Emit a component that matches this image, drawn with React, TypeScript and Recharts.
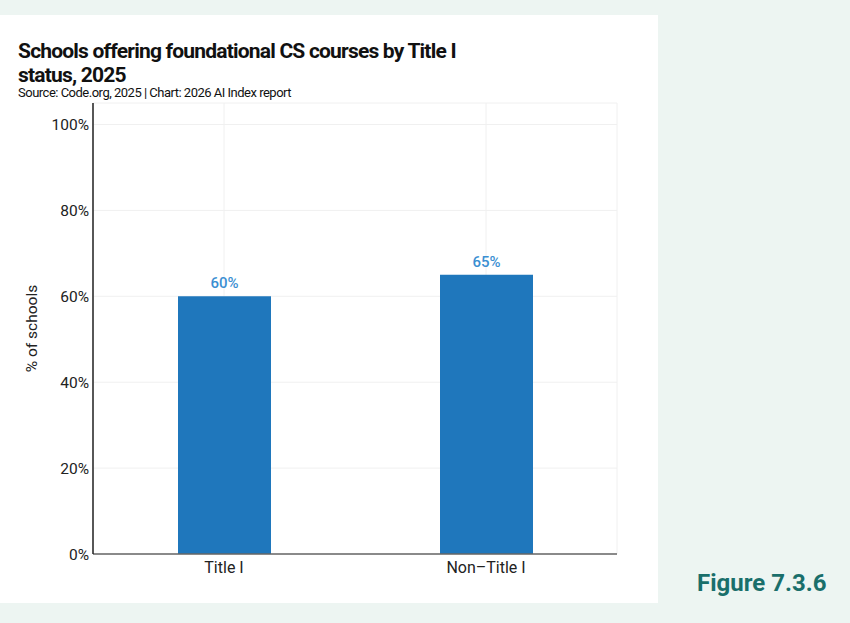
import { BarChart, Bar, XAxis, YAxis, CartesianGrid, LabelList } from 'recharts'

const categories = ['Title I', 'Non\u2013Title I']
const shares = [60, 65]
const yTicks = [0, 20, 40, 60, 80, 100]

const data = categories.map((name, i) => ({ name, value: shares[i] }))

const FONT = 'Roboto, "Noto Sans", sans-serif'

export default function App() {
  return (
    <div
      style={{
        position: 'absolute',
        left: 0,
        top: 0,
        width: 850,
        height: 623,
        background: '#edf5f2',
        fontFamily: FONT,
        overflow: 'hidden',
      }}
    >
      <div style={{ position: 'absolute', left: 0, top: 15, width: 658, height: 588, background: '#fff' }} />
      <div
        style={{
          position: 'absolute',
          left: 18,
          top: 39,
          width: 600,
          fontSize: 21,
          fontWeight: 700,
          lineHeight: '24px',
          color: '#111',
          letterSpacing: -0.8,
        }}
      >
        Schools offering foundational CS courses by Title I
        <br />
        status, 2025
      </div>
      <div style={{ position: 'absolute', left: 18, top: 85, fontSize: 13, color: '#111', letterSpacing: -0.5 }}>
        Source: Code.org, 2025 | Chart: 2026 AI Index report
      </div>
      <div style={{ position: 'absolute', left: 0, top: 0 }}>
        <BarChart
          width={658}
          height={603}
          data={data}
          margin={{ top: 103, right: 41, bottom: 20, left: 11 }}
        >
          <CartesianGrid stroke="#f0f0f0" />
          <XAxis
            dataKey="name"
            tickLine={false}
            axisLine={{ stroke: '#666', strokeWidth: 1.5 }}
            tick={{ fontSize: 16, fill: '#222', fontFamily: FONT }}
            height={29}
          />
          <YAxis
            domain={[0, 105]}
            ticks={yTicks}
            allowDataOverflow
            tickFormatter={(v) => `${v}%`}
            tickLine={false}
            tickSize={4}
            tickMargin={0}
            axisLine={{ stroke: '#222', strokeWidth: 1.5 }}
            tick={{ fontSize: 15.5, fill: '#222', fontFamily: FONT }}
            width={82}
            label={{
              value: '% of schools',
              angle: -90,
              position: 'insideLeft',
              offset: 20,
              style: { fontSize: 15.5, fill: '#222', fontFamily: FONT, textAnchor: 'middle' },
            }}
          />
          <Bar dataKey="value" fill="#1f77bc" barSize={93} isAnimationActive={false}>
            <LabelList
              dataKey="value"
              position="top"
              offset={8}
              formatter={(v: any) => `${v}%`}
              style={{ fontSize: 15, fontWeight: 500, fill: '#3b8fd2', fontFamily: FONT }}
            />
          </Bar>
        </BarChart>
      </div>
      <div
        style={{
          position: 'absolute',
          left: 697,
          top: 569,
          fontSize: 24,
          fontWeight: 700,
          color: '#1a6f6b',
        }}
      >
        Figure 7.3.6
      </div>
    </div>
  )
}
